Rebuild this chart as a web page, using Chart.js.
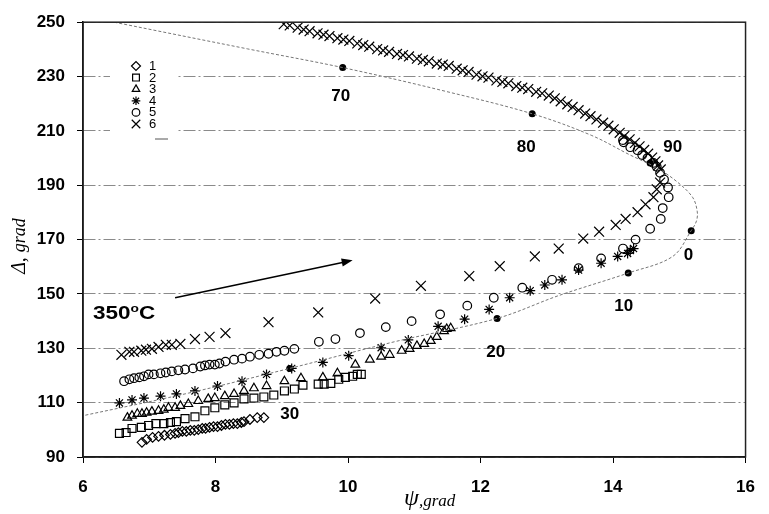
<!DOCTYPE html>
<html>
<head>
<meta charset="utf-8">
<script src="https://cdn.jsdelivr.net/npm/chart.js@4.4.1/dist/chart.umd.min.js"></script>
<style>
  html, body { margin: 0; padding: 0; background: #fff; }
</style>
</head>
<body>
<canvas id="myChart" width="769" height="514"></canvas>
<script>
// axis ticks
const psiTicks = [6, 8, 10, 12, 14, 16];
const deltaTicks = [90, 110, 130, 150, 170, 190, 210, 230, 250];

// series 1 (diamonds)
const psi1 = [6.89, 6.96, 7.05, 7.14, 7.23, 7.32, 7.39, 7.44, 7.50, 7.56, 7.62, 7.68, 7.74, 7.80, 7.85, 7.91, 7.97, 8.03, 8.09, 8.15, 8.21, 8.27, 8.33, 8.39, 8.43, 8.52, 8.63, 8.73];
const delta1 = [95.4, 96.5, 97.2, 97.6, 98.0, 98.3, 98.7, 99.0, 99.4, 99.4, 99.8, 99.8, 100.1, 100.5, 100.5, 100.9, 101.2, 101.2, 101.6, 102.0, 102.0, 102.3, 102.3, 102.7, 103.0, 103.8, 104.5, 104.5];

// series 2 (squares)
const psi2 = [6.55, 6.65, 6.74, 6.88, 6.99, 7.10, 7.22, 7.32, 7.41, 7.54, 7.69, 7.84, 7.99, 8.14, 8.28, 8.43, 8.58, 8.73, 8.88, 9.04, 9.19, 9.32, 9.55, 9.64, 9.74, 9.86, 9.96, 10.07, 10.14, 10.20];
const delta2 = [98.7, 99.0, 100.5, 100.9, 101.6, 102.3, 102.3, 102.7, 103.0, 104.1, 104.8, 107.0, 108.1, 109.2, 109.9, 111.4, 111.7, 112.1, 112.8, 114.3, 115.0, 116.4, 116.8, 116.8, 117.1, 118.6, 119.3, 119.7, 120.4, 120.4];

// series 3 (triangles)
const psi3 = [6.67, 6.74, 6.82, 6.89, 6.96, 7.04, 7.14, 7.22, 7.29, 7.39, 7.47, 7.59, 7.74, 7.89, 7.99, 8.14, 8.28, 8.43, 8.58, 8.77, 9.04, 9.29, 9.62, 9.84, 10.11, 10.33, 10.50, 10.63, 10.81, 10.93, 11.04, 11.15, 11.25, 11.34, 11.45, 11.49, 11.55];
const delta3 = [104.5, 105.2, 105.9, 105.9, 106.3, 106.7, 107.0, 107.4, 108.1, 108.1, 108.8, 109.5, 110.6, 111.4, 111.7, 112.4, 113.2, 114.3, 115.3, 116.1, 117.9, 119.0, 119.3, 120.8, 124.0, 125.8, 126.9, 127.6, 129.1, 129.8, 130.9, 131.6, 132.7, 134.2, 136.3, 137.1, 137.4];

// series 4 (asterisks)
const psi4 = [6.55, 6.74, 6.92, 7.17, 7.41, 7.69, 8.03, 8.40, 8.77, 9.15, 9.62, 10.01, 10.50, 10.91, 11.36, 11.76, 12.13, 12.44, 12.75, 12.97, 13.23, 13.48, 13.82, 14.07, 14.22, 14.26, 14.31];
const delta4 = [109.9, 111.0, 111.7, 112.4, 113.2, 114.3, 116.1, 117.9, 120.4, 122.6, 124.8, 127.3, 130.2, 133.1, 138.1, 140.7, 144.3, 148.6, 151.2, 153.3, 155.2, 158.8, 161.3, 163.8, 164.9, 166.0, 166.7];

// series 5 (circles)
const psi5 = [6.62, 6.70, 6.77, 6.85, 6.92, 6.99, 7.07, 7.17, 7.25, 7.34, 7.44, 7.54, 7.66, 7.77, 7.84, 7.91, 7.99, 8.06, 8.15, 8.28, 8.40, 8.52, 8.66, 8.80, 8.92, 9.04, 9.19, 9.56, 9.81, 10.18, 10.57, 10.96, 11.39, 11.80, 12.20, 12.63, 13.08, 13.48, 13.82, 14.15, 14.34, 14.56, 14.72, 14.75, 14.84, 14.83, 14.77, 14.71, 14.66, 14.61, 14.52, 14.44, 14.37, 14.26, 14.16, 14.15];
const delta5 = [117.9, 118.6, 119.0, 119.3, 119.7, 120.4, 120.4, 120.8, 121.1, 121.5, 121.9, 122.2, 122.6, 123.3, 123.7, 124.0, 124.0, 124.4, 125.1, 125.8, 126.2, 126.9, 127.6, 128.0, 128.7, 129.1, 129.8, 132.4, 133.4, 135.6, 137.8, 140.0, 142.5, 145.7, 148.6, 152.3, 155.2, 159.5, 163.1, 166.7, 170.0, 174.0, 177.6, 181.6, 185.6, 189.2, 192.1, 194.6, 196.8, 198.2, 200.0, 201.1, 202.9, 204.0, 205.8, 206.6];

// series 6 (crosses), lower branch then upper branch
const psi6 = [6.58, 6.70, 6.77, 6.88, 6.95, 7.04, 7.14, 7.25, 7.34, 7.47, 7.69, 7.91, 8.15, 8.80, 9.55, 10.41, 11.10, 11.83, 12.29, 12.82, 13.18, 13.55, 13.79, 14.04, 14.19, 14.37, 14.49, 14.61, 14.66, 14.71,
  9.03, 9.12, 9.24, 9.33, 9.42, 9.54, 9.63, 9.72, 9.84, 9.93, 10.02, 10.14, 10.23, 10.32, 10.44, 10.53, 10.62, 10.74, 10.83, 10.92, 11.04, 11.13, 11.22, 11.34, 11.43, 11.52, 11.64, 11.73, 11.82, 11.94, 12.03, 12.12, 12.24, 12.33, 12.42, 12.54, 12.63, 12.72, 12.84, 12.93, 13.03, 13.12, 13.21, 13.31, 13.39, 13.48, 13.58, 13.66, 13.75, 13.85, 13.93, 14.01, 14.10, 14.17, 14.25, 14.33, 14.40, 14.47, 14.53, 14.59, 14.64, 14.68, 14.72];
const delta6 = [127.6, 128.7, 128.7, 129.1, 129.5, 129.8, 130.5, 131.3, 131.3, 131.6, 133.4, 134.2, 135.6, 139.6, 143.2, 148.3, 153.0, 156.6, 160.2, 163.8, 166.7, 170.4, 172.9, 175.4, 177.6, 180.1, 183.0, 185.6, 188.5, 191.0,
  249.3, 248.8, 248.0, 247.3, 246.7, 245.9, 245.4, 244.9, 244.1, 243.6, 243.1, 242.2, 241.6, 241.0, 240.1, 239.6, 239.1, 238.3, 237.9, 237.4, 236.6, 236.1, 235.6, 234.8, 234.4, 233.9, 232.9, 232.3, 231.7, 230.7, 230.1, 229.6, 228.6, 228.0, 227.5, 226.5, 225.9, 225.4, 224.4, 223.8, 223.0, 222.0, 220.9, 219.8, 218.8, 217.6, 216.4, 215.4, 214.2, 213.0, 211.9, 210.6, 209.3, 208.1, 206.9, 205.6, 204.3, 203.0, 201.6, 200.2, 198.8, 197.3, 195.8];

// calculated curve (thin dotted line)
const curvePsi = [6.47, 8.48, 9.92, 11.45, 12.78, 13.67, 14.26, 14.66, 14.96, 15.20, 15.27, 15.26, 15.18, 14.90, 14.23, 13.18, 12.25, 10.70, 9.12, 7.59, 6.00];
const curveDelta = [250, 240.2, 233.3, 224.7, 216.3, 208.4, 201.1, 196.4, 191.4, 185.6, 180.5, 176.9, 173.3, 163.8, 157.7, 149.4, 141.0, 132.4, 122.6, 113.5, 105.2];

// angle marks on the curve
const markPsi = [9.92, 12.78, 14.56, 15.18, 14.23, 12.25, 9.12];
const markDelta = [233.3, 216.3, 198.2, 173.3, 157.7, 141.0, 122.6];
const markNames = ['70', '80', '90', '0', '10', '20', '30'];
const markLabelPsi = [9.89, 12.69, 14.90, 15.14, 14.16, 12.23, 9.12];
const markLabelDelta = [222.9, 204.0, 204.0, 164.2, 145.4, 128.4, 105.6];

const seriesNames = ['1', '2', '3', '4', '5', '6'];

const toPts = (xs, ys) => xs.map((v, i) => ({ x: v, y: ys[i] }));

const markStyle = (style, r) => ({
  pointStyle: style,
  pointRadius: r,
  borderColor: '#000',
  backgroundColor: 'rgba(0,0,0,0)',
  borderWidth: 1.2,
  showLine: false
});

const styles = [['rectRot', 4.8], ['rect', 5.6], ['triangle', 5], ['star', 5], ['circle', 4.3], ['crossRot', 7]];
const legendStyles = [['rectRot', 4.5], ['rect', 4.8], ['triangle', 4.3], ['star', 4.3], ['circle', 3.8], ['crossRot', 6]];

const seriesPsi = [psi1, psi2, psi3, psi4, psi5, psi6];
const seriesDelta = [delta1, delta2, delta3, delta4, delta5, delta6];

const extras = {
  id: 'extras',
  beforeDatasetsDraw(chart) {
    const ctx = chart.ctx;
    ctx.save();
    ctx.fillStyle = '#fff';
    ctx.fillRect(110, 55, 67, 95);
    ctx.restore();
  },
  afterDraw(chart) {
    const { ctx, chartArea: a, scales } = chart;
    const px = v => scales.x.getPixelForValue(v);
    const py = v => scales.y.getPixelForValue(v);
    ctx.save();

    // frame
    ctx.strokeStyle = '#222';
    ctx.lineWidth = 1.5;
    ctx.strokeRect(a.left, a.top, a.right - a.left, a.bottom - a.top);

    // angle labels
    ctx.fillStyle = '#000';
    ctx.font = 'bold 17px Arial';
    ctx.textAlign = 'center';
    ctx.textBaseline = 'middle';
    markNames.forEach((t, i) => ctx.fillText(t, px(markLabelPsi[i]), py(markLabelDelta[i])));

    // 350°C
    ctx.save();
    ctx.translate(93, 319);
    ctx.scale(1.25, 1);
    ctx.textAlign = 'left';
    ctx.textBaseline = 'alphabetic';
    ctx.font = 'bold 18px Arial';
    ctx.fillText('350', 0, 0);
    let w = ctx.measureText('350').width;
    ctx.font = 'bold 11px Arial';
    ctx.fillText('o', w, -7);
    w += ctx.measureText('o').width;
    ctx.font = 'bold 18px Arial';
    ctx.fillText('C', w, 0);
    ctx.restore();

    // arrow
    const x1 = px(7.39), y1 = py(148.6), x2 = px(10.07), y2 = py(162.4);
    const ang = Math.atan2(y2 - y1, x2 - x1);
    ctx.strokeStyle = '#000';
    ctx.lineWidth = 1.5;
    ctx.beginPath();
    ctx.moveTo(x1, y1);
    ctx.lineTo(x2 - 8 * Math.cos(ang), y2 - 8 * Math.sin(ang));
    ctx.stroke();
    ctx.beginPath();
    ctx.moveTo(x2, y2);
    ctx.lineTo(x2 - 11 * Math.cos(ang) + 4 * Math.sin(ang), y2 - 11 * Math.sin(ang) - 4 * Math.cos(ang));
    ctx.lineTo(x2 - 11 * Math.cos(ang) - 4 * Math.sin(ang), y2 - 11 * Math.sin(ang) + 4 * Math.cos(ang));
    ctx.closePath();
    ctx.fill();

    // legend
    ctx.font = '13px Arial';
    ctx.textAlign = 'left';
    ctx.textBaseline = 'middle';
    seriesNames.forEach((t, i) => {
      const y = 66 + i * 11.6;
      ctx.fillStyle = 'rgba(0,0,0,0)';
      ctx.strokeStyle = '#000';
      ctx.lineWidth = 1.2;
      Chart.helpers.drawPoint(ctx, { pointStyle: legendStyles[i][0], radius: legendStyles[i][1], rotation: 0, borderWidth: 1.2 }, 136, y);
      ctx.fillStyle = '#000';
      ctx.fillText(t, 149, y + 0.5);
    });
    ctx.strokeStyle = '#555';
    ctx.lineWidth = 1;
    ctx.beginPath();
    ctx.moveTo(155, 139);
    ctx.lineTo(168, 139);
    ctx.stroke();

    // y axis title
    ctx.save();
    ctx.translate(25, 246);
    ctx.rotate(-Math.PI / 2);
    ctx.fillStyle = '#000';
    ctx.textBaseline = 'alphabetic';
    ctx.font = 'italic 20px "Liberation Serif"';
    const p1 = 'Δ, ';
    const w1 = ctx.measureText(p1).width;
    ctx.font = 'italic 18px "Liberation Serif"';
    const w2 = ctx.measureText('grad').width;
    let sx = -(w1 + w2) / 2;
    ctx.font = 'italic 20px "Liberation Serif"';
    ctx.fillText(p1, sx, 0);
    ctx.font = 'italic 18px "Liberation Serif"';
    ctx.fillText('grad', sx + w1, 0);
    ctx.restore();

    // x axis title
    ctx.fillStyle = '#000';
    ctx.textAlign = 'left';
    ctx.textBaseline = 'alphabetic';
    ctx.font = 'italic 24px "Liberation Serif"';
    ctx.fillText('ψ', 404, 505);
    const wp = ctx.measureText('ψ').width;
    ctx.font = 'italic 17px "Liberation Serif"';
    ctx.fillText(',grad', 404 + wp, 506);

    ctx.restore();
  }
};

const datasets = [{
  data: toPts(curvePsi, curveDelta),
  showLine: true,
  pointRadius: 0,
  borderColor: '#777',
  borderWidth: 1,
  borderDash: [3, 2],
  tension: 0.35,
  fill: false
}];
seriesPsi.forEach((xs, i) => {
  datasets.push(Object.assign({ label: seriesNames[i], data: toPts(xs, seriesDelta[i]) }, markStyle(styles[i][0], styles[i][1])));
});
datasets.push({
  data: toPts(markPsi, markDelta),
  pointStyle: 'circle',
  pointRadius: 3.5,
  backgroundColor: '#000',
  borderColor: '#000',
  borderWidth: 0,
  showLine: false
});

const ctx = document.getElementById('myChart').getContext('2d');
const myChart = new Chart(ctx, {
  type: 'scatter',
  data: { datasets },
  options: {
    responsive: false,
    animation: false,
    events: [],
    layout: { padding: { top: 15, right: 12, left: 0, bottom: 0 } },
    plugins: {
      legend: { display: false },
      tooltip: { enabled: false }
    },
    scales: {
      x: {
        type: 'linear',
        min: 6,
        max: 16,
        afterBuildTicks: s => { s.ticks = psiTicks.map(v => ({ value: v })); },
        afterFit: s => { s.height = 57; },
        ticks: { color: '#000', font: { family: 'Arial', size: 17, weight: 'bold' }, padding: 14 },
        grid: { drawOnChartArea: false, drawTicks: true, tickLength: 6, tickColor: '#000' },
        border: { display: true, color: '#000', width: 1.5 }
      },
      y: {
        type: 'linear',
        min: 90,
        max: 250,
        afterBuildTicks: s => { s.ticks = deltaTicks.map(v => ({ value: v })); },
        afterFit: s => { s.width = 83; },
        ticks: { color: '#000', font: { family: 'Arial', size: 17, weight: 'bold' }, padding: 12 },
        grid: { color: '#8a8a8a', lineWidth: 1, tickLength: 6, tickColor: '#000', tickBorderDash: [] },
        border: { display: true, color: '#000', width: 1.5, dash: [12, 3, 2, 3] }
      }
    }
  },
  plugins: [extras]
});
</script>
</body>
</html>
